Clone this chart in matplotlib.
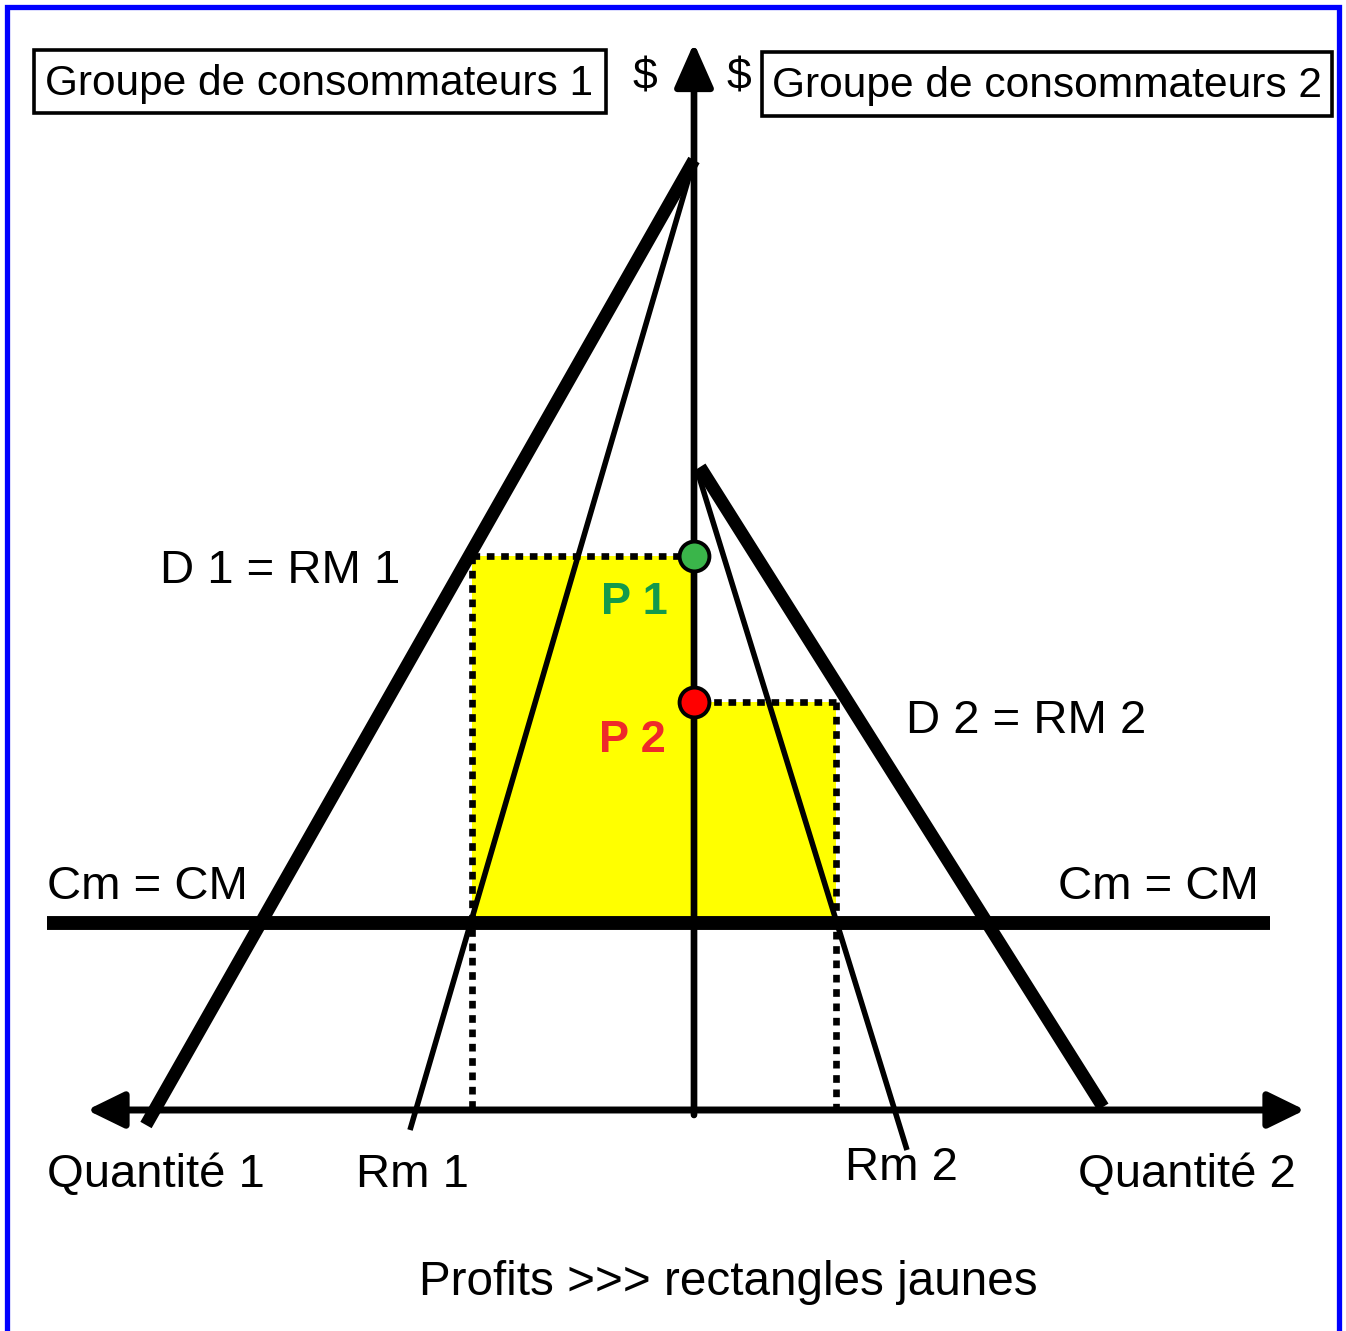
import matplotlib
matplotlib.use("Agg")
import matplotlib.pyplot as plt
from matplotlib.patches import Rectangle

plt.rcParams['font.family'] = ['Liberation Sans', 'DejaVu Sans']

# ------------- data (price / quantity units, group 1 drawn to the left) -------------
d1_q = [0, -548]
d1_p = [950, -15]
rm1_q = [0, -284]
rm1_p = [950, -20]
d2_q = [6, 409]
d2_p = [643, 3]
rm2_q = [3, 213]
rm2_p = [640, -40]

cm_level = 187
cm_range = [-647, 576]

q_opt = [-222, 142]     # optimal quantities (group 1, group 2)
p_opt = [554, 408]      # prices P1, P2
group_names = ["Groupe de consommateurs 1", "Groupe de consommateurs 2"]

# ------------- figure -------------
fig = plt.figure(figsize=(13.46, 13.31), dpi=100)
ax = fig.add_axes([0, 0, 1, 1])
ax.set_xlim(-694, 652)
ax.set_ylim(-221, 1110)
ax.axis("off")

# yellow profit rectangles
for q, p in zip(q_opt, p_opt):
    ax.add_patch(Rectangle((min(q, 0), cm_level), abs(q), p - cm_level,
                           facecolor="#ffff00", edgecolor="none", zorder=1))

# dotted guides
dot = dict(color="black", lw=4.8, linestyle=(0, (1.15, 1.0)), zorder=2)
for q, p in zip(q_opt, p_opt):
    ax.plot([q, 0], [p, p], **dot)
    ax.plot([q, q], [p, 0], **dot)

# demand and marginal revenue curves
ax.plot(d1_q, d1_p, color="black", lw=9.3, solid_capstyle="butt", zorder=3)
ax.plot(d2_q, d2_p, color="black", lw=9.3, solid_capstyle="butt", zorder=3)
ax.plot(rm1_q, rm1_p, color="black", lw=4, solid_capstyle="butt", zorder=3)
ax.plot(rm2_q, rm2_p, color="black", lw=4, solid_capstyle="butt", zorder=3)

# Cm = CM
ax.plot(cm_range, [cm_level, cm_level], color="black", lw=10, solid_capstyle="butt", zorder=4)

# axes with arrows
ax.annotate("", xy=(611, 0), xytext=(-607, 0),
            arrowprops=dict(arrowstyle="<|-|>,head_length=0.45,head_width=0.22",
                            mutation_scale=50, lw=5, color="black",
                            shrinkA=0, shrinkB=0), zorder=4)
ax.annotate("", xy=(0, 1067), xytext=(0, -5),
            arrowprops=dict(arrowstyle="-|>,head_length=0.52,head_width=0.23",
                            mutation_scale=52, lw=4.8, color="black",
                            shrinkA=0, shrinkB=0), zorder=4)

# price points
ax.plot(0, p_opt[0], "o", ms=21.5, mfc="#3ab54a", mec="black", mew=2.8, zorder=6)
ax.plot(0, p_opt[1], "o", ms=21.5, mfc="#ff0000", mec="black", mew=2.8, zorder=6)

# group boxes
ax.add_patch(Rectangle((-660, 997), 572, 63, facecolor="white",
                       edgecolor="black", lw=2.6, zorder=5))
ax.add_patch(Rectangle((68, 994), 570, 64, facecolor="white",
                       edgecolor="black", lw=2.6, zorder=5))
ax.text(-649, 1015, group_names[0], fontsize=30.5, ha="left", va="baseline", zorder=7)
ax.text(78, 1013, group_names[1], fontsize=30.6, ha="left", va="baseline", zorder=7)
ax.text(-49, 1020, "$", fontsize=32, ha="center", va="baseline", zorder=7)
ax.text(45, 1020, "$", fontsize=32, ha="center", va="baseline", zorder=7)

# labels
lab = dict(fontsize=34, ha="left", va="baseline", zorder=7)
ax.text(-534, 527, "D 1 = RM 1", **lab)
ax.text(212, 377, "D 2 = RM 2", **lab)
ax.text(-647, 211, "Cm = CM", **lab)
ax.text(364, 211, "Cm = CM", **lab)
ax.text(-647, -77, "Quantité 1", **lab)
ax.text(-338, -77, "Rm 1", **lab)
ax.text(151, -70, "Rm 2", **lab)
ax.text(384, -77, "Quantité 2", **lab)
ax.text(34, -185, "Profits >>> rectangles jaunes", fontsize=34.3,
        ha="center", va="baseline", zorder=7)

ax.text(-93, 496, "P 1", fontsize=32.5, fontweight="bold", color="#129a4c",
        ha="left", va="baseline", zorder=7)
ax.text(-95, 358, "P 2", fontsize=32.5, fontweight="bold", color="#ee2a2a",
        ha="left", va="baseline", zorder=7)

# blue frame around the picture
ax.add_patch(Rectangle((-687, -240), 1332, 1343, facecolor="none",
                       edgecolor="#0000ff", lw=3.8, clip_on=False, zorder=8))

fig.savefig("out.png", dpi=100)
